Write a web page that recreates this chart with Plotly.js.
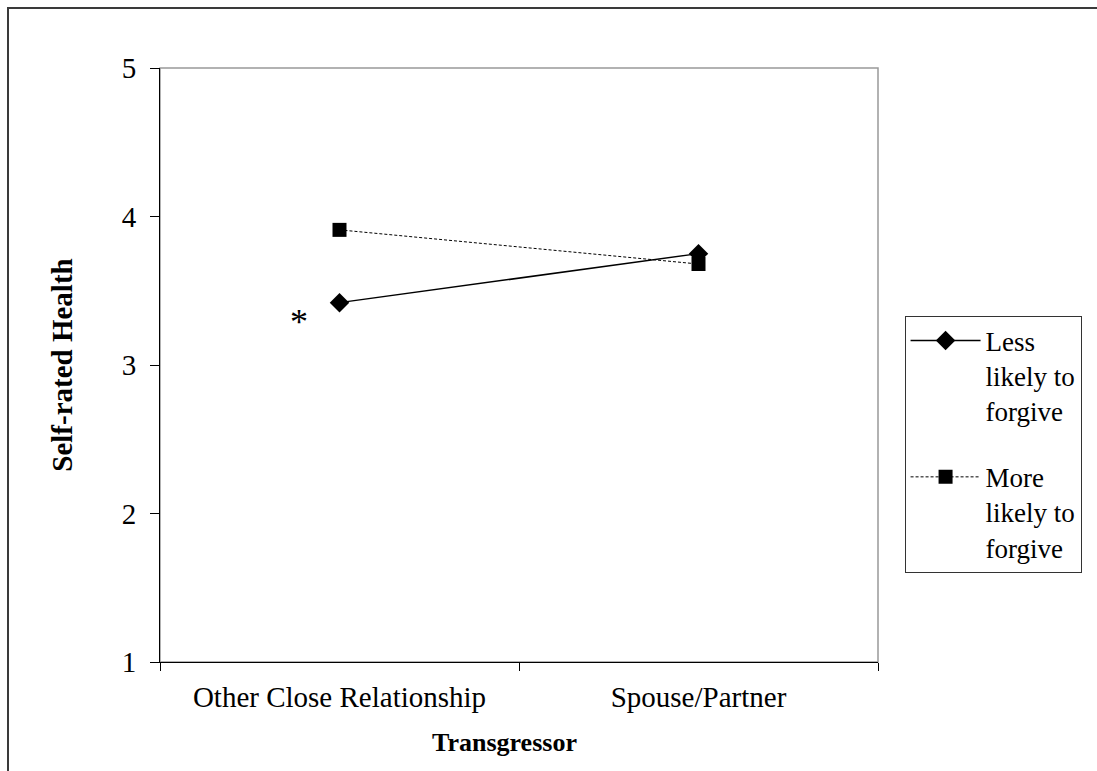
<!DOCTYPE html>
<html>
<head>
<meta charset="utf-8">
<script src="https://cdn.plot.ly/plotly-3.0.1.min.js"></script>
<style>
  html, body { margin: 0; padding: 0; background: #fff; }
  #wrap { position: relative; width: 1097px; height: 771px; overflow: hidden; }
  #chart { width: 1097px; height: 771px; }
  #frame { position: absolute; left: 7px; top: 7px; width: 1200px; height: 900px;
           border-top: 2px solid #3a3a3a; border-left: 2px solid #3a3a3a; pointer-events: none; }
</style>
</head>
<body>
<div id="wrap">
  <div id="chart"></div>
  <div id="frame"></div>
</div>
<script>
const categories = ["Other Close Relationship", "Spouse/Partner"];
const lessLikely = [3.42, 3.75];
const moreLikely = [3.91, 3.68];
const seriesNames = ["Less<br>likely to<br>forgive", "More<br>likely to<br>forgive"];
const yTicks = [1, 2, 3, 4, 5];
const sigMark = "*";
const xTitle = "Transgressor";
const yTitle = "Self-rated Health";

const serif = "Liberation Serif, Times New Roman, serif";

const traces = [
  {
    x: categories, y: lessLikely, name: seriesNames[0], legendgroup: "a", type: "scatter", mode: "lines+markers",
    line: { color: "#000", width: 1.5 },
    marker: { symbol: "diamond", size: 15, color: "#000" }
  },
  {
    x: categories, y: moreLikely, name: seriesNames[1], legendgroup: "b", type: "scatter", mode: "lines+markers",
    line: { color: "#000", width: 1, dash: "3px,2px" },
    marker: { symbol: "square", size: 14, color: "#000" }
  }
];

const layout = {
  width: 1097, height: 771,
  margin: { l: 160, r: 219, t: 68, b: 109 },
  paper_bgcolor: "#fff", plot_bgcolor: "#fff",
  showlegend: true,
  font: { family: serif, color: "#000" },
  xaxis: {
    type: "category", range: [-0.5, 1.5],
    tickson: "boundaries", ticks: "outside", ticklen: 8, tickcolor: "#000", tickwidth: 1,
    showline: true, linecolor: "#000", linewidth: 1,
    showgrid: false, zeroline: false,
    tickfont: { family: serif, size: 29, color: "#000" },
    ticklabelstandoff: 9,
    fixedrange: true
  },
  yaxis: {
    range: [1, 5], tickvals: yTicks, ticktext: yTicks.map(String),
    ticks: "outside", ticklen: 9, tickcolor: "#000", tickwidth: 1,
    showline: true, linecolor: "#000", linewidth: 1,
    showgrid: false, zeroline: false,
    tickfont: { family: serif, size: 29, color: "#000" },
    ticklabelstandoff: 8,
    title: { text: "<b>" + yTitle + "</b>", font: { family: serif, size: 29, color: "#000" }, standoff: 40 },
    fixedrange: true
  },
  legend: {
    x: 1.037, xanchor: "left", y: 0.367, yanchor: "middle",
    bordercolor: "#333", borderwidth: 1, bgcolor: "#fff",
    font: { family: serif, size: 27, color: "#000" },
    valign: "top", traceorder: "grouped", tracegroupgap: 28, itemwidth: 70
  },
  shapes: [
    { type: "rect", xref: "paper", yref: "paper", x0: 0, x1: 1, y0: 0, y1: 1,
      line: { color: "#999", width: 1.5 }, layer: "below" }
  ],
  annotations: [
    { x: categories[0], y: lessLikely[0], xref: "x", yref: "y", text: sigMark, showarrow: false,
      xshift: -41, yshift: -19, font: { family: serif, size: 36, color: "#000" } },
    { x: 0.48, y: -0.135, xref: "paper", yref: "paper", xanchor: "center", yanchor: "middle",
      text: "<b>" + xTitle + "</b>", showarrow: false, font: { family: serif, size: 26, color: "#000" } }
  ]
};

Plotly.newPlot("chart", traces, layout, { displayModeBar: false, staticPlot: true });
</script>
</body>
</html>
